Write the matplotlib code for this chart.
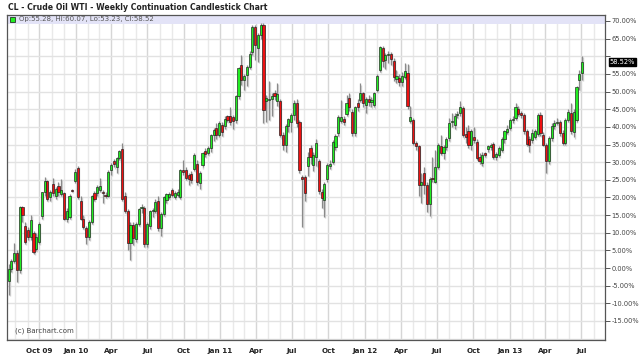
import datetime as dt
import matplotlib
matplotlib.use("Agg")
import matplotlib.pyplot as plt
import matplotlib.dates as mdates
import matplotlib.transforms as mtransforms
from matplotlib.patches import Rectangle

title = "CL - Crude Oil WTI - Weekly Continuation Candlestick Chart"
legend_text = "Op:55.28, Hi:60.07, Lo:53.23, Cl:58.52"
copyright_text = "(c) Barchart.com"
first_week = dt.date(2009, 7, 15)

opens = [
    -3.8, -0.2, 2.0, 4.2, -0.6, 17.2, 11.8, 10.9, 8.7, 9.9,
    5.4, 7.3, 14.7, 21.4, 24.6, 20.0, 23.8, 20.3, 23.2, 21.0,
    21.2, 14.0, 14.5, 21.9, 24.6, 28.4, 19.0, 14.0, 11.4, 8.8,
    13.0, 21.2, 21.2, 22.0, 21.4, 20.8, 20.3, 27.8, 30.2, 28.6,
    31.2, 33.7, 20.5, 16.2, 7.1, 12.1, 8.1, 12.6, 17.0, 17.1,
    6.7, 11.8, 16.1, 16.1, 19.0, 11.2, 15.4, 19.4, 20.1, 22.2,
    20.0, 20.8, 20.1, 27.9, 27.9, 26.3, 26.6, 28.2, 29.6, 24.1,
    29.1, 33.1, 32.6, 33.9, 37.7, 39.6, 37.7, 40.5, 40.2, 43.0,
    43.1, 42.9, 41.9, 48.8, 57.4, 53.2, 54.7, 57.1, 61.3, 68.4,
    62.3, 66.0, 68.9, 47.2, 47.5, 47.8, 49.7, 47.4, 47.2, 37.7,
    34.9, 40.3, 41.5, 43.4, 46.7, 41.5, 25.9, 25.9, 28.8, 34.0,
    29.2, 31.6, 30.2, 21.4, 19.3, 25.2, 29.0, 30.1, 34.4, 38.4,
    41.8, 42.1, 43.7, 48.1, 44.3, 38.2, 46.9, 47.6, 49.5, 46.2,
    47.8, 47.0, 46.2, 50.5, 56.1, 62.3, 59.0, 60.4, 60.7, 58.8,
    53.5, 53.8, 52.8, 54.1, 55.2, 41.7, 42.0, 35.4, 34.6, 23.6,
    26.9, 23.6, 18.2, 25.6, 24.5, 28.7, 34.6, 32.6, 34.4, 36.8,
    41.4, 40.5, 43.3, 43.8, 45.3, 38.0, 38.7, 35.0, 37.2, 35.8,
    31.4, 29.9, 32.5, 33.6, 34.4, 35.2, 31.6, 32.1, 33.5, 36.6,
    38.6, 39.6, 42.0, 42.4, 45.0, 43.8, 43.4, 38.7, 36.5, 36.3,
    37.2, 38.0, 43.5, 37.8, 34.9, 30.2, 36.8, 40.3, 41.2, 41.5,
    38.2, 35.5, 42.0, 44.0, 38.5, 42.0, 53.3, 55.28,
]
highs = [
    1.0, 2.5, 7.2, 5.0, 17.6, 17.5, 13.1, 11.5, 15.0, 10.5,
    10.0, 13.0, 21.6, 25.8, 25.0, 22.0, 25.5, 23.0, 24.5, 25.3,
    21.5, 17.0, 21.0, 22.3, 28.0, 28.8, 20.5, 15.0, 12.0, 13.5,
    20.8, 21.8, 23.5, 25.5, 22.0, 21.5, 27.8, 29.8, 30.8, 31.5,
    33.5, 35.3, 21.5, 16.8, 13.0, 13.0, 13.0, 17.0, 18.0, 17.5,
    13.0, 16.5, 17.0, 19.5, 20.5, 15.8, 20.5, 21.3, 21.5, 22.8,
    21.8, 22.3, 28.0, 30.5, 28.5, 27.0, 27.5, 32.5, 30.5, 27.5,
    33.0, 34.0, 34.5, 38.0, 39.8, 41.0, 41.8, 41.5, 43.0, 43.5,
    45.5, 43.5, 49.0, 57.0, 60.5, 55.0, 57.5, 61.5, 69.0, 68.8,
    66.5, 69.3, 69.5, 49.0, 53.0, 49.5, 50.5, 52.5, 48.0, 38.5,
    40.8, 42.5, 43.8, 47.5, 47.8, 42.0, 26.5, 26.5, 33.0, 35.0,
    33.0, 36.5, 31.0, 22.5, 24.5, 29.8, 30.5, 36.3, 38.0, 43.5,
    47.6, 43.0, 49.0, 49.5, 45.0, 46.0, 48.0, 52.3, 50.0, 48.5,
    49.0, 48.5, 50.0, 55.0, 63.0, 62.8, 61.0, 61.5, 61.2, 59.5,
    56.0, 55.0, 55.5, 58.0, 57.8, 45.8, 42.5, 36.0, 35.0, 27.0,
    28.7, 24.5, 25.8, 31.5, 33.5, 35.5, 37.7, 35.0, 37.0, 42.5,
    44.0, 43.8, 44.5, 47.2, 46.0, 40.0, 40.5, 39.5, 40.0, 36.5,
    32.5, 33.0, 33.0, 35.0, 35.5, 35.8, 32.8, 34.5, 37.0, 39.0,
    40.5, 42.5, 43.0, 46.7, 45.8, 44.5, 44.0, 39.5, 37.5, 39.5,
    39.5, 44.0, 44.2, 38.5, 35.5, 37.5, 41.0, 42.0, 42.5, 42.0,
    39.0, 42.5, 45.0, 46.7, 45.0, 51.5, 56.0, 60.07,
]
lows = [
    -7.6, -1.0, 1.5, -4.0, -1.5, 13.0, 6.8, 8.0, 8.0, 4.0,
    4.8, 6.8, 14.0, 20.5, 19.0, 19.0, 20.5, 19.5, 20.5, 20.5,
    13.5, 13.0, 14.0, 21.5, 24.0, 19.5, 13.5, 11.0, 6.7, 8.0,
    12.5, 19.0, 20.5, 21.5, 18.5, 19.8, 20.0, 26.5, 28.5, 27.0,
    30.5, 19.0, 15.5, 5.2, 2.4, 6.5, 7.5, 12.0, 15.5, 6.0,
    6.0, 11.0, 14.5, 15.5, 10.5, 9.0, 14.8, 18.5, 19.5, 20.0,
    19.5, 20.0, 19.5, 26.5, 25.0, 23.5, 24.0, 27.5, 23.5, 22.5,
    28.5, 31.5, 32.0, 33.0, 36.0, 36.5, 37.0, 37.5, 39.5, 41.5,
    40.5, 39.5, 41.0, 48.0, 52.0, 50.5, 51.5, 56.5, 60.5, 59.0,
    58.5, 65.0, 41.0, 41.5, 42.0, 43.0, 47.5, 46.0, 37.0, 33.5,
    33.0, 38.5, 38.5, 42.0, 40.0, 27.0, 11.5, 19.0, 26.0, 29.5,
    27.5, 29.0, 21.0, 17.0, 14.5, 24.5, 28.0, 29.5, 33.5, 37.5,
    41.0, 40.5, 43.0, 44.5, 37.5, 37.5, 44.5, 47.0, 45.5, 44.0,
    46.0, 45.5, 45.5, 50.0, 55.5, 57.0, 56.5, 58.0, 57.5, 53.0,
    52.5, 51.5, 51.5, 53.5, 45.0, 41.0, 35.0, 33.5, 20.3, 18.4,
    21.0, 16.0, 14.6, 24.5, 24.0, 28.0, 32.0, 31.0, 33.5, 36.0,
    40.0, 39.5, 42.5, 43.0, 37.0, 35.5, 34.0, 33.5, 35.5, 30.5,
    29.5, 29.0, 31.5, 33.0, 33.5, 30.8, 30.5, 31.5, 33.0, 35.5,
    38.0, 39.0, 41.0, 42.0, 43.0, 42.5, 38.0, 34.5, 33.0, 35.5,
    36.5, 37.5, 37.5, 34.5, 26.9, 29.5, 36.0, 39.5, 40.5, 37.5,
    35.0, 35.0, 41.5, 38.0, 37.0, 41.5, 50.5, 53.23,
]
closes = [
    -0.2, 2.0, 4.2, -0.6, 17.2, 15.0, 7.3, 8.7, 13.5, 4.4,
    8.7, 12.6, 21.4, 24.6, 19.5, 21.5, 21.2, 22.4, 21.4, 22.0,
    14.0, 16.2, 20.5, 21.8, 27.3, 20.0, 14.0, 11.6, 8.7, 13.0,
    20.3, 19.5, 23.0, 23.3, 21.3, 20.3, 27.3, 29.2, 29.4, 31.2,
    33.1, 19.5, 16.2, 7.1, 12.1, 8.6, 12.6, 16.6, 17.3, 6.7,
    12.6, 16.1, 16.2, 18.7, 11.2, 15.4, 20.1, 20.9, 21.1, 20.6,
    21.2, 21.6, 27.7, 27.2, 25.6, 25.3, 24.9, 32.0, 24.4, 26.9,
    32.6, 32.4, 33.9, 37.7, 39.1, 37.7, 41.2, 38.6, 42.2, 42.0,
    41.5, 41.8, 48.8, 56.7, 53.2, 54.5, 57.1, 60.6, 68.4, 63.2,
    66.0, 68.9, 44.8, 48.1, 48.0, 48.8, 48.8, 49.3, 37.7, 34.9,
    40.3, 42.1, 43.4, 46.7, 41.0, 27.8, 25.2, 21.2, 31.6, 31.6,
    32.0, 35.4, 21.7, 19.8, 23.8, 29.2, 29.6, 35.8, 37.4, 42.9,
    42.9, 41.5, 46.9, 45.5, 38.2, 45.5, 45.5, 49.5, 46.7, 47.8,
    47.0, 47.6, 49.5, 54.4, 62.5, 58.8, 60.4, 60.5, 59.1, 54.2,
    54.4, 52.8, 54.4, 55.7, 45.9, 42.7, 35.4, 34.6, 23.6, 24.5,
    23.6, 18.2, 25.2, 25.2, 28.5, 34.9, 32.5, 34.4, 36.5, 41.0,
    41.6, 43.1, 43.5, 45.7, 37.7, 37.2, 34.9, 38.7, 36.3, 31.3,
    30.2, 32.1, 32.1, 34.6, 34.9, 31.4, 32.2, 33.9, 36.5, 38.7,
    39.3, 42.0, 42.2, 45.5, 43.7, 43.3, 38.7, 35.2, 35.0, 38.2,
    38.7, 43.5, 38.2, 35.0, 30.2, 36.8, 40.3, 41.2, 41.5, 38.2,
    35.5, 42.0, 44.3, 38.7, 44.3, 51.2, 55.0, 58.52,
]

y_ticks = [-15, -10, -5, 0, 5, 10, 15, 20, 25, 30, 35, 40, 45, 50, 55, 60, 65, 70]
x_tick_dates = ["2009-10-01", "2010-01-01", "2010-04-01", "2010-07-01",
                "2010-10-01", "2011-01-01", "2011-04-01", "2011-07-01",
                "2011-10-01", "2012-01-01", "2012-04-01", "2012-07-01",
                "2012-10-01", "2013-01-01", "2013-04-01", "2013-07-01"]
x_tick_labels = ["Oct 09", "Jan 10", "Apr", "Jul", "Oct", "Jan 11", "Apr", "Jul",
                 "Oct", "Jan 12", "Apr", "Jul", "Oct", "Jan 13", "Apr", "Jul"]
last_close = 58.52

W, H = 640, 363
fig = plt.figure(figsize=(W / 100, H / 100), dpi=100)
fig.patch.set_facecolor("white")
ax_left, ax_right, ax_top, ax_bottom = 7, 605, 15, 340
ax = fig.add_axes([ax_left / W, 1 - ax_bottom / H, (ax_right - ax_left) / W,
                   (ax_bottom - ax_top) / H])

n = len(opens)
dates = [first_week + dt.timedelta(weeks=i) for i in range(n)]
xs = mdates.date2num(dates)

x0 = mdates.date2num(dt.date(2009, 7, 11))
x1 = mdates.date2num(dt.date(2013, 8, 30))
ax.set_xlim(x0, x1)
ax.set_ylim(-20.4, 71.7)

# grid: monthly vertical lines, quarter lines darker
for yr in range(2009, 2014):
    for m in range(1, 13):
        d = mdates.date2num(dt.date(yr, m, 1))
        if x0 < d < x1:
            col = "#d6d6d6" if m in (1, 4, 7, 10) else "#e9e9e9"
            ax.axvline(d, color=col, lw=1.0, zorder=0)
for v in range(-20, 71, 5):
    ax.axhline(v, color="#e2e2e2", lw=1.0, zorder=0)

# top legend band
ax.add_patch(Rectangle((0, 1 - 8.5 / 325), 1, 8.5 / 325, transform=ax.transAxes,
                       facecolor="#e3e3f7", edgecolor="none", zorder=1))

body_w = 5.4
shadow_dx = 2.5
for xi, o, h, l, c in zip(xs, opens, highs, lows, closes):
    up = c >= o
    bot = min(o, c)
    ht = max(abs(c - o), 0.25)
    # shadow
    ax.vlines(xi + shadow_dx, l - 0.3, h - 0.3, color="#d2d2d2", lw=1.0, zorder=2)
    ax.add_patch(Rectangle((xi - body_w / 2 + shadow_dx, bot - 0.3), body_w, ht,
                           facecolor="#d0d0d0", edgecolor="none", zorder=2))
    ax.vlines(xi, l, h, color="#8a8a8a", lw=0.9, zorder=3)
    ax.add_patch(Rectangle((xi - body_w / 2, bot), body_w, ht,
                           facecolor="#22ee22" if up else "#ee1111",
                           edgecolor="#1a1a1a", lw=0.45, zorder=4))

# axes styling
for s in ax.spines.values():
    s.set_color("#555555")
    s.set_linewidth(0.9)
ax.yaxis.tick_right()
ax.set_yticks(y_ticks)
ax.set_yticklabels(["" if v == 60 else f"{v:.2f}%" for v in y_ticks])
ax.tick_params(axis="y", direction="out", length=3.5, width=0.7, color="#555555",
               labelsize=4.8, labelcolor="#444444", pad=1.0)
ax.set_xticks([mdates.date2num(dt.date.fromisoformat(d)) for d in x_tick_dates])
ax.set_xticklabels(x_tick_labels)
ax.tick_params(axis="x", length=0, labelsize=5.2, labelcolor="#222222", pad=6)
for lab in ax.get_xticklabels():
    lab.set_fontweight("bold")

# last value tag
trans = mtransforms.blended_transform_factory(ax.transAxes, ax.transData)
ax.text(1.008, last_close, f"{last_close:.2f}%", transform=trans, ha="left", va="center",
        fontsize=4.8, color="white", zorder=6,
        bbox=dict(boxstyle="square,pad=0.15", facecolor="black", edgecolor="black"))

ax.text(0.013, 0.022, copyright_text, transform=ax.transAxes, fontsize=5.0,
        color="#444444", zorder=6)

# legend in band
fig.add_artist(Rectangle((10 / W, 1 - 22 / H), 5 / W, 5 / H, transform=fig.transFigure,
                         facecolor="#22ee22", edgecolor="#111111", lw=0.5))
fig.text(19 / W, 1 - 19.5 / H, legend_text, fontsize=5.0, color="#555555", va="center")

fig.text(8 / W, 1 - 7 / H, title, fontsize=5.6, fontweight="bold", color="#222222",
         va="center")

fig.savefig("out.png", dpi=100, facecolor="white")
